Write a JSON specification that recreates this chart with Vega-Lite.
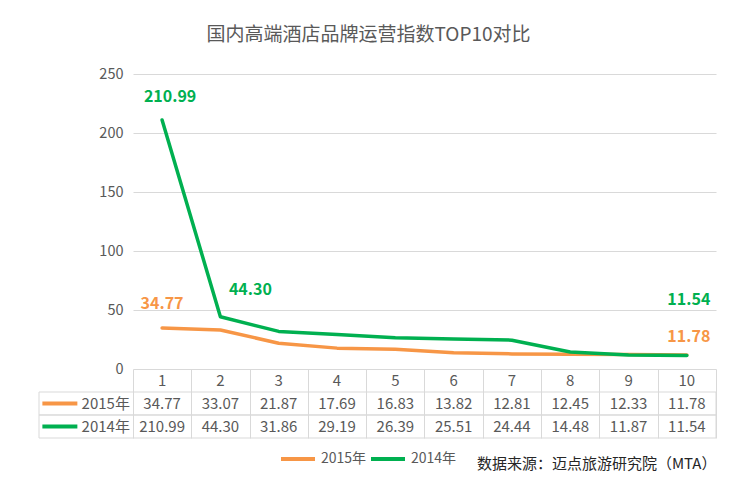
{
  "$schema": "https://vega.github.io/schema/vega-lite/v6.json",
  "background": "white",
  "padding": {"left": 38, "top": 26, "right": 0, "bottom": 0},
  "config": {
    "font": "Noto Sans CJK SC",
    "view": {"stroke": null}
  },
  "datasets": {
    "idx": [
      {"rank": 1, "series": "2015年", "value": 34.77},
      {"rank": 2, "series": "2015年", "value": 33.07},
      {"rank": 3, "series": "2015年", "value": 21.87},
      {"rank": 4, "series": "2015年", "value": 17.69},
      {"rank": 5, "series": "2015年", "value": 16.83},
      {"rank": 6, "series": "2015年", "value": 13.82},
      {"rank": 7, "series": "2015年", "value": 12.81},
      {"rank": 8, "series": "2015年", "value": 12.45},
      {"rank": 9, "series": "2015年", "value": 12.33},
      {"rank": 10, "series": "2015年", "value": 11.78},
      {"rank": 1, "series": "2014年", "value": 210.99},
      {"rank": 2, "series": "2014年", "value": 44.30},
      {"rank": 3, "series": "2014年", "value": 31.86},
      {"rank": 4, "series": "2014年", "value": 29.19},
      {"rank": 5, "series": "2014年", "value": 26.39},
      {"rank": 6, "series": "2014年", "value": 25.51},
      {"rank": 7, "series": "2014年", "value": 24.44},
      {"rank": 8, "series": "2014年", "value": 14.48},
      {"rank": 9, "series": "2014年", "value": 11.87},
      {"rank": 10, "series": "2014年", "value": 11.54}
    ]
  },
  "title": {
    "text": "国内高端酒店品牌运营指数TOP10对比",
    "anchor": "middle",
    "fontSize": 19,
    "fontWeight": "normal",
    "color": "#595959",
    "offset": 21,
    "dx": -9
  },
  "bounds": "flush",
  "spacing": 0,
  "vconcat": [
    {
      "width": 677,
      "height": 295,
      "data": {"name": "idx"},
      "encoding": {
        "x": {"field": "rank", "type": "quantitative", "scale": {"domain": [-1.111, 10.5]}, "axis": null},
        "y": {
          "field": "value",
          "type": "quantitative",
          "scale": {"domain": [0, 250]},
          "axis": {
            "title": null,
            "values": [0, 50, 100, 150, 200, 250],
            "grid": true,
            "gridColor": "#d9d9d9",
            "gridDash": [0, 94, 1000],
            "domain": false,
            "ticks": false,
            "offset": -94,
            "labelPadding": 10,
            "labelFontSize": 14.5,
            "labelColor": "#595959"
          }
        }
      },
      "layer": [
        {
          "mark": {"type": "line", "strokeWidth": 3.5, "strokeCap": "round", "strokeJoin": "round"},
          "encoding": {
            "color": {
              "field": "series",
              "type": "nominal",
              "scale": {"domain": ["2015年", "2014年"], "range": ["#F79646", "#00B050"]},
              "legend": {
                "orient": "none",
                "legendX": 240,
                "legendY": 366,
                "direction": "horizontal",
                "title": null,
                "padding": 0,
                "symbolType": "stroke",
                "symbolSize": 1156,
                "symbolStrokeWidth": 4,
                "labelFontSize": 14,
                "labelColor": "#595959",
                "labelOffset": 4,
                "columnPadding": -4
              }
            }
          }
        },
        {
          "transform": [{"filter": "datum.series === '2015年' && datum.rank === 1"}],
          "mark": {"type": "text", "fontSize": 16, "fontWeight": "bold", "color": "#F79646", "dy": -24},
          "encoding": {"text": {"field": "value", "type": "quantitative", "format": ".2f"}}
        },
        {
          "transform": [{"filter": "datum.series === '2015年' && datum.rank === 10"}],
          "mark": {"type": "text", "fontSize": 16, "fontWeight": "bold", "color": "#F79646", "dx": 2, "dy": -18},
          "encoding": {"text": {"field": "value", "type": "quantitative", "format": ".2f"}}
        },
        {
          "transform": [{"filter": "datum.series === '2014年' && datum.rank === 1"}],
          "mark": {"type": "text", "fontSize": 16, "fontWeight": "bold", "color": "#00B050", "dx": 8, "dy": -23},
          "encoding": {"text": {"field": "value", "type": "quantitative", "format": ".2f"}}
        },
        {
          "transform": [{"filter": "datum.series === '2014年' && datum.rank === 2"}],
          "mark": {"type": "text", "fontSize": 16, "fontWeight": "bold", "color": "#00B050", "dx": 30, "dy": -27},
          "encoding": {"text": {"field": "value", "type": "quantitative", "format": ".2f"}}
        },
        {
          "transform": [{"filter": "datum.series === '2014年' && datum.rank === 10"}],
          "mark": {"type": "text", "fontSize": 16, "fontWeight": "bold", "color": "#00B050", "dx": 2, "dy": -55},
          "encoding": {"text": {"field": "value", "type": "quantitative", "format": ".2f"}}
        }
      ]
    },
    {
      "width": 677,
      "height": 69,
      "data": {"name": "idx"},
      "title": {
        "text": "数据来源：迈点旅游研究院（MTA）",
        "orient": "bottom",
        "anchor": "end",
        "fontSize": 15,
        "fontWeight": "normal",
        "color": "#262626",
        "offset": 18
      },
      "encoding": {
        "x": {
          "field": "rank",
          "type": "quantitative",
          "scale": {"domain": [-1.111, 10.5]},
          "axis": {
            "values": [0.5, 1.5, 2.5, 3.5, 4.5, 5.5, 6.5, 7.5, 8.5, 9.5, 10.5],
            "grid": true,
            "gridColor": "#d9d9d9",
            "labels": false,
            "ticks": false,
            "domain": false,
            "title": null
          }
        },
        "y": {
          "field": "row",
          "type": "nominal",
          "scale": {"type": "band", "domain": ["hdr", "2015年", "2014年"], "paddingInner": 0, "paddingOuter": 0},
          "axis": null
        }
      },
      "layer": [
        {
          "transform": [{"filter": "datum.rank === 1"}, {"calculate": "datum.series", "as": "row"}],
          "mark": {"type": "rect", "fill": "transparent", "stroke": "#d9d9d9", "strokeWidth": 1},
          "encoding": {
            "x": {"datum": -1.111},
            "x2": {"datum": 10.5}
          }
        },
        {
          "transform": [{"filter": "datum.series === '2015年'"}, {"calculate": "'hdr'", "as": "row"}],
          "mark": {"type": "text", "fontSize": 15, "color": "#595959"},
          "encoding": {
            "y": {"field": "row", "type": "nominal", "bandPosition": 0.5},
            "text": {"field": "rank", "type": "quantitative"}
          }
        },
        {
          "transform": [{"calculate": "datum.series", "as": "row"}],
          "mark": {"type": "text", "fontSize": 15, "color": "#595959"},
          "encoding": {
            "y": {"field": "row", "type": "nominal", "bandPosition": 0.5},
            "text": {"field": "value", "type": "quantitative", "format": ".2f"}
          }
        },
        {
          "transform": [{"filter": "datum.rank === 1"}, {"calculate": "datum.series", "as": "row"}],
          "mark": {"type": "text", "fontSize": 15, "color": "#595959", "align": "right", "dx": -3},
          "encoding": {
            "x": {"datum": 0.5},
            "y": {"field": "row", "type": "nominal", "bandPosition": 0.5},
            "text": {"field": "series", "type": "nominal"}
          }
        },
        {
          "transform": [{"filter": "datum.rank === 1 && datum.series === '2015年'"}, {"calculate": "datum.series", "as": "row"}],
          "mark": {"type": "rule", "strokeWidth": 4, "color": "#F79646"},
          "encoding": {
            "x": {"datum": -1.053},
            "x2": {"datum": -0.453},
            "y": {"field": "row", "type": "nominal", "bandPosition": 0.5}
          }
        },
        {
          "transform": [{"filter": "datum.rank === 1 && datum.series === '2014年'"}, {"calculate": "datum.series", "as": "row"}],
          "mark": {"type": "rule", "strokeWidth": 4, "color": "#00B050"},
          "encoding": {
            "x": {"datum": -1.053},
            "x2": {"datum": -0.453},
            "y": {"field": "row", "type": "nominal", "bandPosition": 0.5}
          }
        }
      ]
    }
  ]
}
